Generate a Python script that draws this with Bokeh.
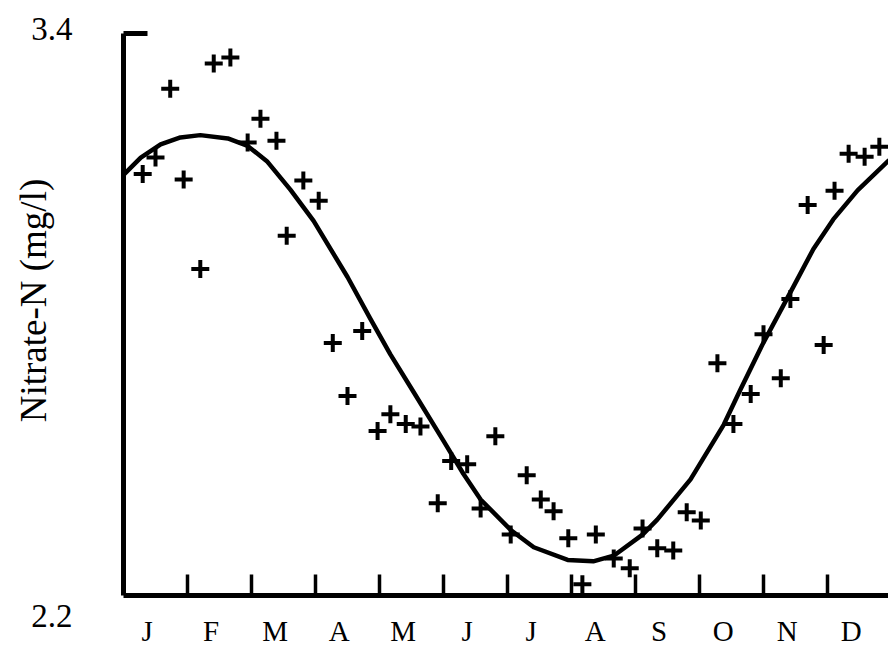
import math
from bokeh.plotting import figure
from bokeh.models import FixedTicker, Range1d, CustomJSTickFormatter
from bokeh.core.properties import value
from bokeh.embed import file_html
from bokeh.resources import INLINE

# ---- data (month units: 0 = 1 Jan, 12 = 31 Dec) ----
months = ["J", "F", "M", "A", "M", "J", "J", "A", "S", "O", "N", "D"]

obs_month = [0.30, 0.50, 0.73, 0.94, 1.20, 1.41, 1.67, 1.94, 2.14, 2.39, 2.55,
             2.81, 3.05, 3.27, 3.50, 3.73, 3.97, 4.17, 4.41, 4.64, 4.91, 5.12,
             5.37, 5.58, 5.81, 6.05, 6.30, 6.52, 6.72, 6.95, 7.17, 7.38, 7.66,
             7.91, 8.11, 8.34, 8.59, 8.80, 9.02, 9.28, 9.53, 9.80, 10.00, 10.27,
             10.42, 10.69, 10.94, 11.11, 11.33, 11.58, 11.81]
obs_nitrate = [3.100, 3.135, 3.282, 3.088, 2.897, 3.336, 3.349, 3.167, 3.218, 3.171, 2.968,
               3.086, 3.043, 2.739, 2.626, 2.765, 2.551, 2.587, 2.566, 2.561, 2.397, 2.487,
               2.480, 2.386, 2.540, 2.330, 2.457, 2.405, 2.380, 2.322, 2.224, 2.330, 2.279,
               2.258, 2.343, 2.301, 2.296, 2.378, 2.360, 2.696, 2.566, 2.630, 2.758, 2.664,
               2.833, 3.034, 2.735, 3.064, 3.143, 3.137, 3.158]

fit_month = [0.0, 0.27, 0.58, 0.89, 1.20, 1.63, 1.94, 2.25, 2.61, 2.97, 3.50, 3.86,
             4.17, 4.53, 5.00, 5.31, 5.58, 6.05, 6.41, 6.94, 7.34, 7.66, 8.11, 8.34,
             8.86, 9.38, 9.64, 9.98, 10.47, 10.78, 11.09, 11.47, 11.95]
fit_nitrate = [3.098, 3.135, 3.163, 3.178, 3.183, 3.176, 3.160, 3.126, 3.066, 3.000, 2.880, 2.790,
               2.715, 2.635, 2.530, 2.460, 2.405, 2.340, 2.303, 2.276, 2.273, 2.285, 2.330, 2.362,
               2.448, 2.565, 2.640, 2.735, 2.860, 2.940, 3.003, 3.065, 3.128]

y_min, y_max = 2.2, 3.4
y_tick_labels = ["2.2", "3.4"]
y_title = "Nitrate-N (mg/l)"

# ---- layout (pixels) ----
W, H = 888, 648
AX_LEFT, AX_TOP, AX_BOTTOM = 123, 33, 595     # where the drawn axes sit
PX_PER_MONTH = 64
px_per_unit = (AX_BOTTOM - AX_TOP) / (y_max - y_min)
x_end = (W - AX_LEFT) / PX_PER_MONTH

FONT = "Liberation Serif"

p = figure(width=W, height=H, output_backend="svg", toolbar_location=None,
           x_range=Range1d(-AX_LEFT / PX_PER_MONTH, x_end),
           y_range=Range1d(y_min - (H - AX_BOTTOM) / px_per_unit,
                           y_max + AX_TOP / px_per_unit),
           min_border_left=0, min_border_right=0, min_border_top=0, min_border_bottom=0)
p.outline_line_color = None
p.grid.visible = False
p.background_fill_color = "white"
p.border_fill_color = "white"

# x axis drawn inside the frame at y = 2.2
xa = p.xaxis[0]
xa.fixed_location = y_min
xa.bounds = (0, x_end)
xa.ticker = FixedTicker(ticks=[i + 0.37 for i in range(len(months))],
                        minor_ticks=list(range(1, 12)))
xa.formatter = CustomJSTickFormatter(args=dict(labels=months),
                                     code="return labels[Math.floor(tick)]")
xa.major_tick_line_color = None
xa.major_tick_in = 0
xa.major_tick_out = 0
xa.minor_tick_in = 21
xa.minor_tick_out = 0
xa.minor_tick_line_width = 3.5
xa.minor_tick_line_color = "black"
xa.axis_line_width = 5
xa.major_label_standoff = 19
xa.major_label_text_font = FONT
xa.major_label_text_font_size = "29px"
xa.major_label_text_color = "black"

# y axis drawn inside the frame at month 0
ya = p.yaxis[0]
ya.fixed_location = 0
ya.bounds = (y_min, y_max)
ya.ticker = FixedTicker(ticks=[], minor_ticks=[y_max])
ya.major_tick_line_color = None
ya.minor_tick_in = 24
ya.minor_tick_out = 0
ya.minor_tick_line_width = 5
ya.minor_tick_line_color = "black"
ya.axis_line_width = 5

# fitted curve and observations
p.line(fit_month, fit_nitrate, line_color="black", line_width=4.5, line_join="round", line_cap="round")
p.scatter(obs_month, obs_nitrate, marker="cross", size=18, line_color="black", line_width=4)

# y tick labels
p.text(x=[0], y=[y_max], text=[y_tick_labels[1]], x_offset=-51, y_offset=-5,
       text_align="right", text_baseline="middle",
       text_font=value(FONT), text_font_size="33px", text_color="black")
p.text(x=[0], y=[y_min], text=[y_tick_labels[0]], x_offset=-51, y_offset=20,
       text_align="right", text_baseline="middle",
       text_font=value(FONT), text_font_size="33px", text_color="black")

# y axis title
p.text(x=[0], y=[(y_min + y_max) / 2], text=[y_title], x_offset=-90, y_offset=-14,
       angle=math.pi / 2, text_align="center", text_baseline="alphabetic",
       text_font=value(FONT), text_font_size="37px", text_color="black")

open("out.html", "w").write(file_html(p, INLINE))
